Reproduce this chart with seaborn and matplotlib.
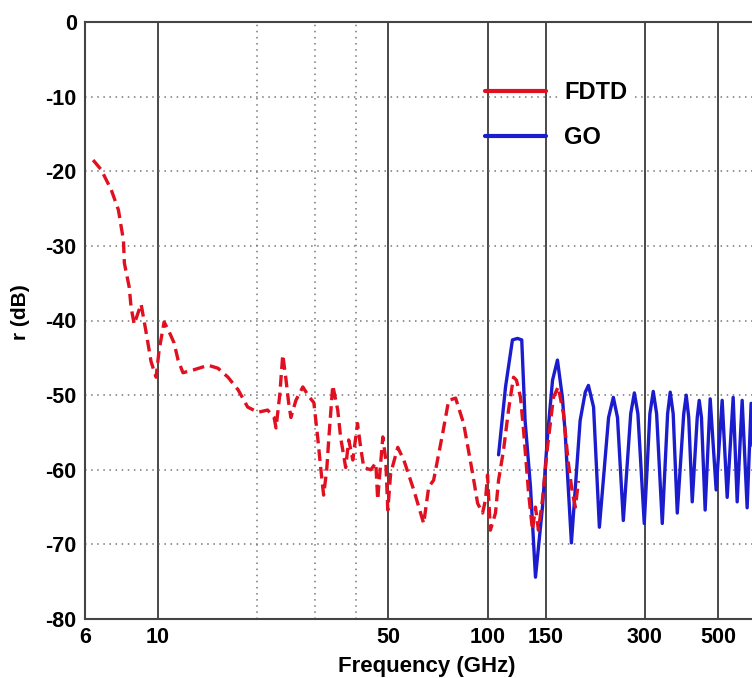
import numpy as np
import seaborn as sns
import matplotlib.pyplot as plt
from matplotlib.lines import Line2D

# FDTD (red dashed)
fdtd_f = [6.35, 6.72, 7.21, 7.58, 7.73, 7.85, 7.90, 8.17, 8.28, 8.46, 8.88, 9.19, 9.52, 9.86,
          10.07, 10.43, 10.8, 11.18, 11.5, 11.9, 12.85, 14.2, 15.2, 16.3, 17.5, 18.7, 20.1,
          21.5, 22.5, 22.8, 23.4, 23.9, 24.4, 24.9, 25.3, 26.2, 27.5, 28.7, 29.7, 30.5, 31.2,
          31.8, 32.5, 33.0, 33.9, 35.1, 35.8, 37.1, 37.9, 39.0, 40.3, 41.2, 42.1, 44.2, 45.8,
          46.4, 48.1, 49.1, 49.8, 50.8, 53.4, 55.7, 59.7, 64.0, 66.3, 68.6, 73.1, 76.2, 80.0,
          84.6, 90.1, 93.3, 96.6, 98.6, 100, 102, 105.7, 108, 111.8, 115.8, 119.9, 122.4,
          125.9, 128.6, 133.2, 136.9, 139.8, 142.7, 146.8, 152, 158.5, 163.8, 169.9, 175.9,
          180.9, 184.8, 188.8]
fdtd_db = [-18.5, -19.8, -22.5, -25.2, -27.5, -29.2, -32.3, -35.5, -38.2, -40.5, -37.8, -41.5,
           -45.5, -47.6, -44, -40.2, -41.5, -43, -45.3, -47, -46.6, -46, -46.4, -47.6, -49.3,
           -51.6, -52.3, -52.0, -53.0, -54.4, -50, -44.6, -47.6, -51, -53, -50.7, -48.9, -50.2,
           -51, -55.6, -60, -63.4, -60, -55.6, -48.7, -52, -55.6, -59.7, -56, -58.7, -53.8,
           -57, -59.7, -60, -59.1, -64, -55.6, -58.7, -65.4, -60.5, -57, -58.7, -62.7, -67.2,
           -62.3, -61.4, -55.1, -50.7, -50.4, -53.8, -60.5, -64.5, -65.8, -64, -60.7, -68.1,
           -65.8, -61.4, -57.4, -52, -47.6, -48, -50.3, -54.7, -63.1, -68.1, -65, -68.1, -64,
           -57, -50.3, -48.9, -52.4, -59.1, -63.1, -65, -61.5]

# GO (blue solid)
go_f = [108, 113.4, 119, 123.3, 127, 130, 135, 139.8, 146.8, 152, 157.5, 163, 168.7, 172,
        179.7, 191, 198, 202.4, 209.8, 218.5, 233, 240.9, 248, 258.3, 272, 279, 286, 299,
        311, 318.4, 326, 339.1, 352, 358.5, 366, 376.6, 394, 400.9, 408, 418.1, 433, 439,
        446, 457.6, 474, 494.2, 515.4, 533.8, 556.6, 572.4, 592.7, 613.7, 631, 650, 670]
go_db = [-58, -48.9, -42.6, -42.4, -42.6, -53.4, -62.3, -74.4, -65, -55.6, -48, -45.3, -50.3,
         -55, -69.8, -53.4, -49.6, -48.7, -51.6, -67.7, -53, -50.3, -53, -66.8, -52.5, -49.7,
         -52.5, -67.2, -52.5, -49.5, -52.5, -67.2, -52.5, -49.6, -52.5, -65.8, -52.5, -50,
         -53, -64.3, -53, -50.7, -53, -65.4, -50.5, -62.7, -50.7, -63.7, -50.3, -64.3, -50.7,
         -65.1, -51.1, -64, -51]

x_ticks = [6, 10, 50, 100, 150, 300, 500]
x_minor = [20, 30, 40]
y_ticks = list(range(-80, 1, 10))

sns.set_style('white')
plt.rcParams['font.family'] = ['Liberation Sans', 'DejaVu Sans']
plt.rcParams['font.weight'] = 'bold'
plt.rcParams['text.color'] = 'black'
plt.rcParams['axes.labelcolor'] = 'black'
plt.rcParams['xtick.color'] = 'black'
plt.rcParams['ytick.color'] = 'black'

red = '#e01020'
blue = '#1c1ccf'

fig = plt.figure(figsize=(7.52, 6.78), dpi=100)
ax = fig.add_axes([85 / 752, 59 / 678, 732 / 752, 597 / 678])

sns.lineplot(x=fdtd_f, y=fdtd_db, ax=ax, color=red, lw=2.4, estimator=None, sort=False,
             linestyle=(0, (3.5, 1.8)), zorder=4)
sns.lineplot(x=go_f, y=go_db, ax=ax, color=blue, lw=2.4, estimator=None, sort=False, zorder=3)

ax.set_xscale('log')
ax.set_xlim(6, 1000)
ax.set_ylim(-80, 0)
ax.set_xticks(x_ticks)
ax.set_xticklabels([str(t) for t in x_ticks])
ax.set_xticks(x_minor, minor=True)
ax.set_xticklabels([], minor=True)
ax.set_yticks(y_ticks)
ax.set_yticklabels([str(t) for t in y_ticks])
ax.tick_params(axis='both', which='both', length=0, labelsize=15.5, pad=6,
               labelcolor='black')

ax.xaxis.grid(True, which='major', color='#2a2a2a', lw=1.2, ls='-')
ax.xaxis.grid(True, which='minor', color='#777777', lw=1.1, ls=(0, (1, 3)))
ax.yaxis.grid(True, which='major', color='#777777', lw=1.1, ls=(0, (1, 3)))
ax.set_axisbelow(True)

for s in ax.spines.values():
    s.set_color('#444444')
    s.set_linewidth(1.5)

ax.set_xlabel('Frequency (GHz)', fontsize=16, fontweight='bold', color='black')
ax.set_ylabel('r (dB)', fontsize=15, fontweight='bold', color='black')
ax.xaxis.set_label_coords((427 - 85) / 732, -0.062)
ax.yaxis.set_label_coords(-0.075, 0.514)

handles = [Line2D([], [], color=red, lw=3), Line2D([], [], color=blue, lw=3)]
leg = fig.legend(handles, ['FDTD', 'GO'], loc='upper left',
                 bbox_to_anchor=(485 / 752, 1 - 81 / 678), bbox_transform=fig.transFigure,
                 frameon=False, borderpad=0, borderaxespad=0, handlelength=2.6,
                 handletextpad=0.75, labelspacing=0.95,
                 prop={'size': 17, 'weight': 'bold'})
for t in leg.get_texts():
    t.set_bbox(dict(facecolor='white', edgecolor='none', pad=3))
    t.set_color('black')

fig.savefig('out.png', dpi=100)
